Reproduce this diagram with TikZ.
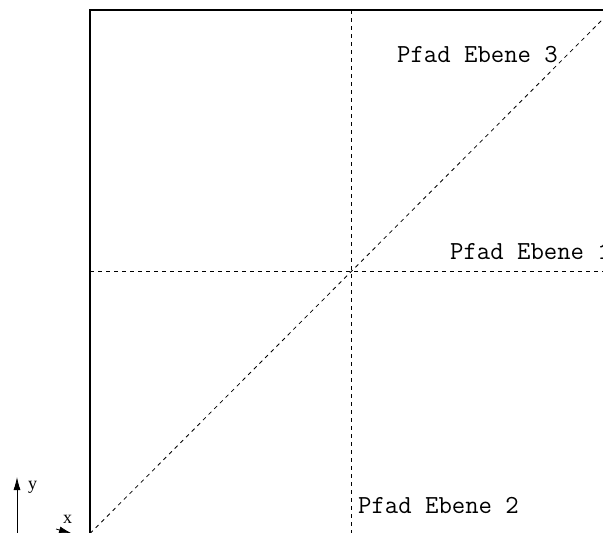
\documentclass[tikz,border=0pt]{standalone}
\usepackage{fontspec}
\setmainfont{Liberation Serif}
\usetikzlibrary{arrows.meta}
\begin{document}
\begin{tikzpicture}[x=1pt,y=-1pt,
  frame/.style={line width=1.3pt,black},
  pathline/.style={line width=0.8pt,dash pattern=on 4pt off 4pt},
  pathlabel/.style={anchor=base west,inner sep=0pt,font=\fontsize{26}{28}\selectfont\ttfamily},
  axislabel/.style={anchor=base west,inner sep=0pt,font=\fontsize{18}{20}\selectfont},
  axis/.style={line width=0.8pt,-{Latex[length=13pt,width=7pt]}}]
  \clip (0,0) rectangle (603,533);
  % corners of the plane and its centre
  \coordinate (bl) at (90,533.5);
  \coordinate (tl) at (90,10);
  \coordinate (br) at (612,533.5);
  \coordinate (tr) at (612,10);
  \coordinate (c)  at (351,271);
  % outline of the plane
  \draw[frame] (bl) rectangle (tr);
  % the three paths through the centre
  \draw[pathline] (bl|-c) -- (br|-c);
  \draw[pathline] (c|-tl) -- (c|-bl);
  \draw[pathline] (bl) -- (tr);
  % labels of the paths
  \node[pathlabel] (p3) at (397,62) {Pfad Ebene 3};
  \node[pathlabel] (p1) at (450,259) {Pfad Ebene 1};
  \node[pathlabel] (p2) at (358,513) {Pfad Ebene 2};
  % coordinate axes
  \coordinate (o)  at (17,545);
  \coordinate (ya) at (17,477);
  \coordinate (xo) at (56,529);
  \coordinate (xa) at (72,533.5);
  \draw[axis] (o) -- (ya);
  \draw[axis] (xo) -- (xa);
  \node[axislabel] (ylab) at (28,489) {y};
  \node[axislabel] (xlab) at (63,523) {x};
\end{tikzpicture}
\end{document}
